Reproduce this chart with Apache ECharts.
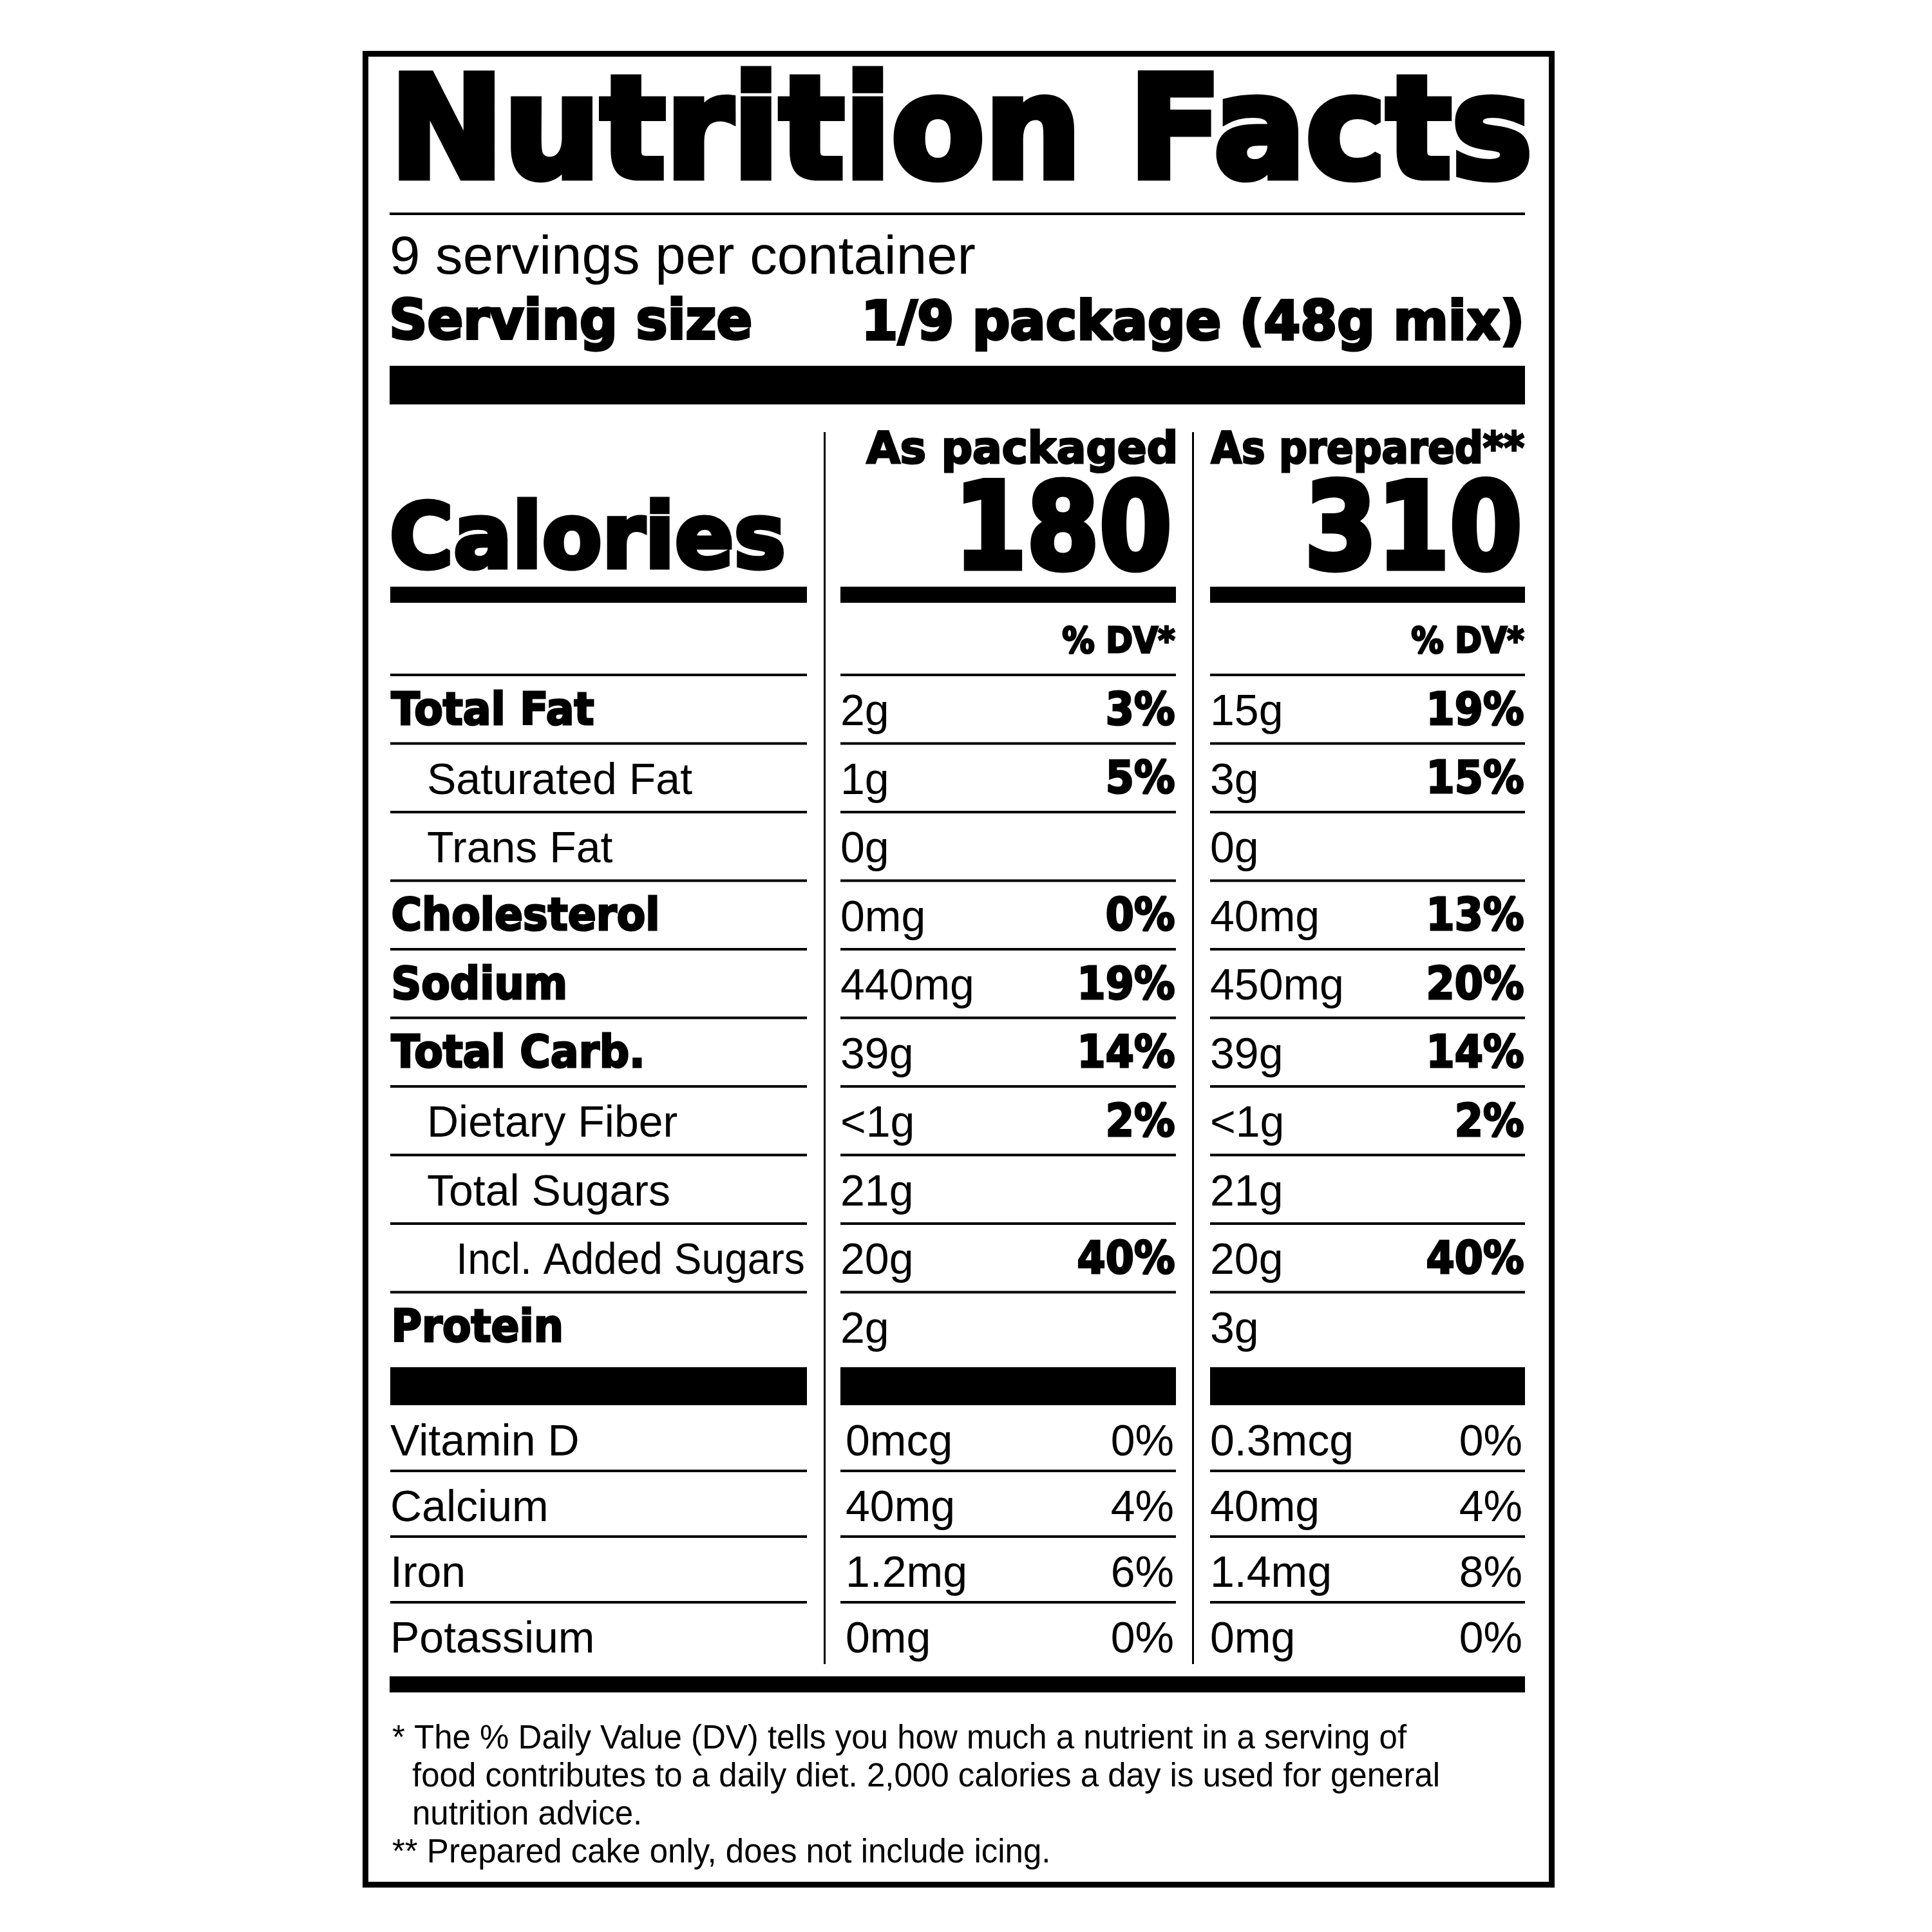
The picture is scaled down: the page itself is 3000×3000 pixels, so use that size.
<!DOCTYPE html>
<html><head><meta charset="utf-8">
<script src="https://cdn.jsdelivr.net/npm/echarts@6/dist/echarts.min.js"></script>
<style>html,body{margin:0;padding:0;background:#fff}#c{width:3000px;height:3000px}</style>
</head><body><div id="c"></div>
<script>
// ---------------- data ----------------
const titleText = 'Nutrition Facts';
const servingsText = '9 servings per container';
const servingSizeLabel = 'Serving size';
const servingSizeValue = '1/9 package (48g mix)';
const columnHeaders = ['As packaged', 'As prepared**'];
const caloriesLabel = 'Calories';
const calories = [180, 310];
const dvHeader = '% DV*';
const nutrientLabels = ['Total Fat', 'Saturated Fat', 'Trans Fat', 'Cholesterol', 'Sodium', 'Total Carb.', 'Dietary Fiber', 'Total Sugars', 'Incl. Added Sugars', 'Protein'];
const nutrientLevel = [0, 1, 1, 0, 0, 0, 1, 1, 2, 0];
const packagedAmounts = ['2g', '1g', '0g', '0mg', '440mg', '39g', '<1g', '21g', '20g', '2g'];
const packagedDV = ['3%', '5%', '', '0%', '19%', '14%', '2%', '', '40%', ''];
const preparedAmounts = ['15g', '3g', '0g', '40mg', '450mg', '39g', '<1g', '21g', '20g', '3g'];
const preparedDV = ['19%', '15%', '', '13%', '20%', '14%', '2%', '', '40%', ''];
const vitaminLabels = ['Vitamin D', 'Calcium', 'Iron', 'Potassium'];
const vitPackagedAmounts = ['0mcg', '40mg', '1.2mg', '0mg'];
const vitPackagedDV = ['0%', '4%', '6%', '0%'];
const vitPreparedAmounts = ['0.3mcg', '40mg', '1.4mg', '0mg'];
const vitPreparedDV = ['0%', '4%', '8%', '0%'];
const footnotes = [
  '* The % Daily Value (DV) tells you how much a nutrient in a serving of',
  'food contributes to a daily diet. 2,000 calories a day is used for general',
  'nutrition advice.',
  '** Prepared cake only, does not include icing.'
];

// ---------------- layout ----------------
const BOLD = s => 'bold ' + s + 'px "DejaVu Sans"';
const REG = s => s + 'px "Liberation Sans"';
const COLS = [{ l: 606, r: 1253 }, { l: 1305, r: 1826 }, { l: 1879, r: 2368 }];
const LEFT = 605, RIGHT = 2368;
const ROW_LINE0 = 1048, ROW_BASE0 = 1126, PITCH = 106.5;
const VIT_BASE0 = 2260, VIT_LINE0 = 2284, VIT_PITCH = 102;

const cv = document.createElement('canvas').getContext('2d');
const els = [];
function fontSize(font) { return parseFloat(font.match(/(\d+(\.\d+)?)px/)[1]); }
function isBold(font) { return font.indexOf('bold') === 0; }
function baseOffset(font) {
  cv.font = font; cv.textBaseline = 'middle';
  return cv.measureText('H').actualBoundingBoxDescent;
}
function textEl(str, x, baseline, font, align, sx) {
  const heavy = isBold(font);
  const lw = heavy ? Math.round(fontSize(font) * 0.05) : 0;
  const s = sx || 1;
  let dx = 0;
  if (heavy && align === 'right') dx = -lw / 2;
  if (heavy && (align || 'left') === 'left') dx = lw / 2;
  const style = { text: str, x: 0, y: 0, font: font, fill: '#000', align: align || 'left', textAlign: align || 'left', verticalAlign: 'middle', textVerticalAlign: 'middle' };
  if (heavy) { style.stroke = '#000'; style.lineWidth = lw; style.lineJoin = 'round'; }
  els.push({ type: 'text', x: x + dx, y: baseline - baseOffset(font) - lw / 2, scaleX: s, scaleY: 1, originX: 0, originY: 0, silent: true, style: style });
}
function fitEl(str, inkL, inkR, baseline, font) {
  const lw = isBold(font) ? Math.round(fontSize(font) * 0.05) : 0;
  cv.font = font; cv.textBaseline = 'alphabetic';
  const m = cv.measureText(str);
  const inkW = m.actualBoundingBoxRight + m.actualBoundingBoxLeft;
  const sx = (inkR - inkL - lw) / inkW;
  textEl(str, inkL + m.actualBoundingBoxLeft * sx, baseline, font, 'left', sx);
}
function rect(x1, y1, x2, y2) {
  els.push({ type: 'rect', silent: true, shape: { x: x1, y: y1, width: x2 - x1, height: y2 - y1 }, style: { fill: '#000' } });
}

// border
rect(563, 79, 2414, 88); rect(563, 2922, 2414, 2931);
rect(563, 79, 572, 2931); rect(2405, 79, 2414, 2931);

// header
fitEl(titleText, 619, 2375, 280, BOLD(219));
rect(LEFT, 330, RIGHT, 334);
fitEl(servingsText, 608, 1514, 425, REG(84));
fitEl(servingSizeLabel, 608, 1167, 528, BOLD(86));
fitEl(servingSizeValue, 1344, 2363, 529, BOLD(84));
rect(LEFT, 568, RIGHT, 628);

// column dividers
rect(1279, 671, 1282, 2584);
rect(1851, 671, 1854, 2584);

// column headers, calories
fitEl(columnHeaders[0], 1344, 1825, 720, BOLD(68));
fitEl(columnHeaders[1], 1879, 2368, 720, BOLD(68));
fitEl(caloriesLabel, 607, 1218, 884, BOLD(139));
textEl(String(calories[0]), COLS[1].r - 2, 886, BOLD(186), 'right', 0.87);
textEl(String(calories[1]), COLS[2].r, 886, BOLD(186), 'right', 0.87);
COLS.forEach(c => rect(c.l, 911, c.r, 936));
textEl(dvHeader, COLS[1].r, 1015, BOLD(56), 'right', 0.9);
textEl(dvHeader, COLS[2].r, 1015, BOLD(56), 'right', 0.9);

// nutrient rows
for (let k = 0; k < nutrientLabels.length; k++) {
  const ly = ROW_LINE0 + k * PITCH;
  COLS.forEach(c => rect(c.l, ly - 2, c.r, ly + 2));
  const by = ROW_BASE0 + k * PITCH;
  const lvl = nutrientLevel[k];
  if (lvl === 0) textEl(nutrientLabels[k], 606, by, BOLD(69), 'left', 0.94);
  else if (lvl === 1) textEl(nutrientLabels[k], 663, by, REG(68), 'left');
  else fitEl(nutrientLabels[k], 714, 1248, by, REG(68));
  textEl(packagedAmounts[k], COLS[1].l, by, REG(68), 'left');
  textEl(preparedAmounts[k], COLS[2].l, by, REG(68), 'left');
  if (packagedDV[k]) textEl(packagedDV[k], COLS[1].r, by, BOLD(69), 'right', 0.92);
  if (preparedDV[k]) textEl(preparedDV[k], COLS[2].r, by, BOLD(69), 'right', 0.92);
}
COLS.forEach(c => rect(c.l, 2123, c.r, 2182));

// vitamins & minerals
for (let j = 0; j < vitaminLabels.length; j++) {
  const by = VIT_BASE0 + j * VIT_PITCH;
  textEl(vitaminLabels[j], 606, by, REG(68), 'left');
  textEl(vitPackagedAmounts[j], COLS[1].l + 8, by, REG(68), 'left');
  textEl(vitPackagedDV[j], COLS[1].r - 3, by, REG(68), 'right');
  textEl(vitPreparedAmounts[j], COLS[2].l, by, REG(68), 'left');
  textEl(vitPreparedDV[j], COLS[2].r - 4, by, REG(68), 'right');
  if (j < vitaminLabels.length - 1) {
    const ly = VIT_LINE0 + j * VIT_PITCH;
    COLS.forEach(c => rect(c.l, ly - 2, c.r, ly + 2));
  }
}
rect(LEFT, 2603, RIGHT, 2628);

// footnotes
const footX = [609, 640, 640, 609];
footnotes.forEach((f, i) => textEl(f, footX[i], 2715 + i * 59, REG(51), 'left'));

const chart = echarts.init(document.getElementById('c'), null, { renderer: 'canvas' });
chart.setOption({ animation: false, backgroundColor: '#ffffff', graphic: { elements: els } });
</script></body></html>
